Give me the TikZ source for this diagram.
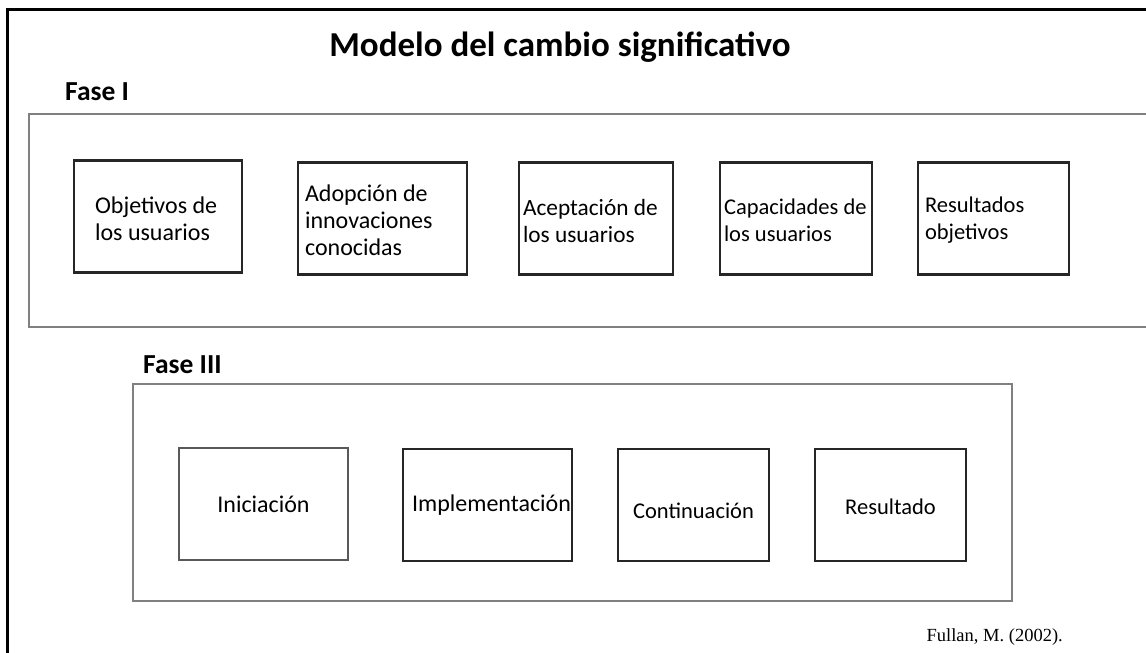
\documentclass[tikz,border=0pt]{standalone}
\usepackage{fontspec}
\setmainfont{Carlito}
\newfontfamily\timesfont{Liberation Serif}
\newcommand{\fsz}[1]{\fontsize{#1}{27}\selectfont}
\begin{document}
\begin{tikzpicture}[x=1pt,y=-1pt,
  box/.style={draw=black!85,line width=2.3pt,minimum width=#1,minimum height=112pt,inner sep=0pt},
  box/.default=168pt,
  phase/.style={draw=black!50,line width=1.8pt},
  txt/.style={font=\fsz{24},align=left,inner sep=0pt,anchor=west},
  ttl/.style={font=\bfseries\fontsize{27.5}{30}\selectfont,inner sep=0pt,anchor=base west}]
\useasboundingbox (0,0) rectangle (1146,653);
% outer frame
\draw[line width=3pt,black] (1150,9) -- (7,9) -- (7,660);
% title
\node[font=\bfseries\fontsize{35}{40}\selectfont,inner sep=0pt] (title) at (560,47) {Modelo del cambio significativo};
% Fase I
\node[ttl] (f1) at (65,100) {Fase I};
\draw[phase] (1150,114) -- (29,114) -- (29,327) -- (1150,327);
\node[box] (o1) at (158,216.5) {};
\node[txt] (t1) at ([xshift=22pt,yshift=-2pt]o1.west) {Objetivos de\\los usuarios};
\node[box=169pt] (o2) at (382.5,218.5) {};
\node[txt] (t2) at ([xshift=8pt,yshift=-1.5pt]o2.west) {Adopción de\\innovaciones\\conocidas};
\node[box=154pt] (o3) at (596,218.5) {};
\node[txt,font=\fsz{23.3}] (t3) at ([xshift=5pt,yshift=-2pt]o3.west) {Aceptación de\\los usuarios};
\node[box=152pt] (o4) at (796,218.5) {};
\node[txt,font=\fsz{22.5}] (t4) at ([xshift=5pt,yshift=-2pt]o4.west) {Capacidades de\\los usuarios};
\node[box=151pt] (o5) at (993.5,218.5) {};
\node[txt,font=\fsz{22.5}] (t5) at ([xshift=8pt,yshift=-2pt]o5.west) {Resultados\\objetivos};
% Fase III
\node[ttl] (f3) at (143,373) {Fase III};
\draw[phase] (133,384) rectangle (1012,601);
\node[box=169pt,draw=black!65] (p1) at (263.5,504) {};
\node[txt,anchor=center] (s1) at (p1.center) {Iniciación};
\node[box=169pt] (p2) at (487.5,505) {};
\node[txt] (s2) at ([xshift=10pt]p2.west) {Implementación};
\node[box=151pt] (p3) at (693.5,505) {};
\node[txt,font=\fsz{22.5},anchor=center] (s3) at ([yshift=-6pt]p3.center) {Continuación};
\node[box=151pt] (p4) at (890.5,505) {};
\node[txt,font=\fsz{22.5},anchor=center] (s4) at ([yshift=-2pt]p4.center) {Resultado};
% source
\node[font=\timesfont\fontsize{18.5}{20}\selectfont,inner sep=0pt,anchor=east] (src) at (1063,637) {Fullan, M. (2002).};
\end{tikzpicture}
\end{document}
